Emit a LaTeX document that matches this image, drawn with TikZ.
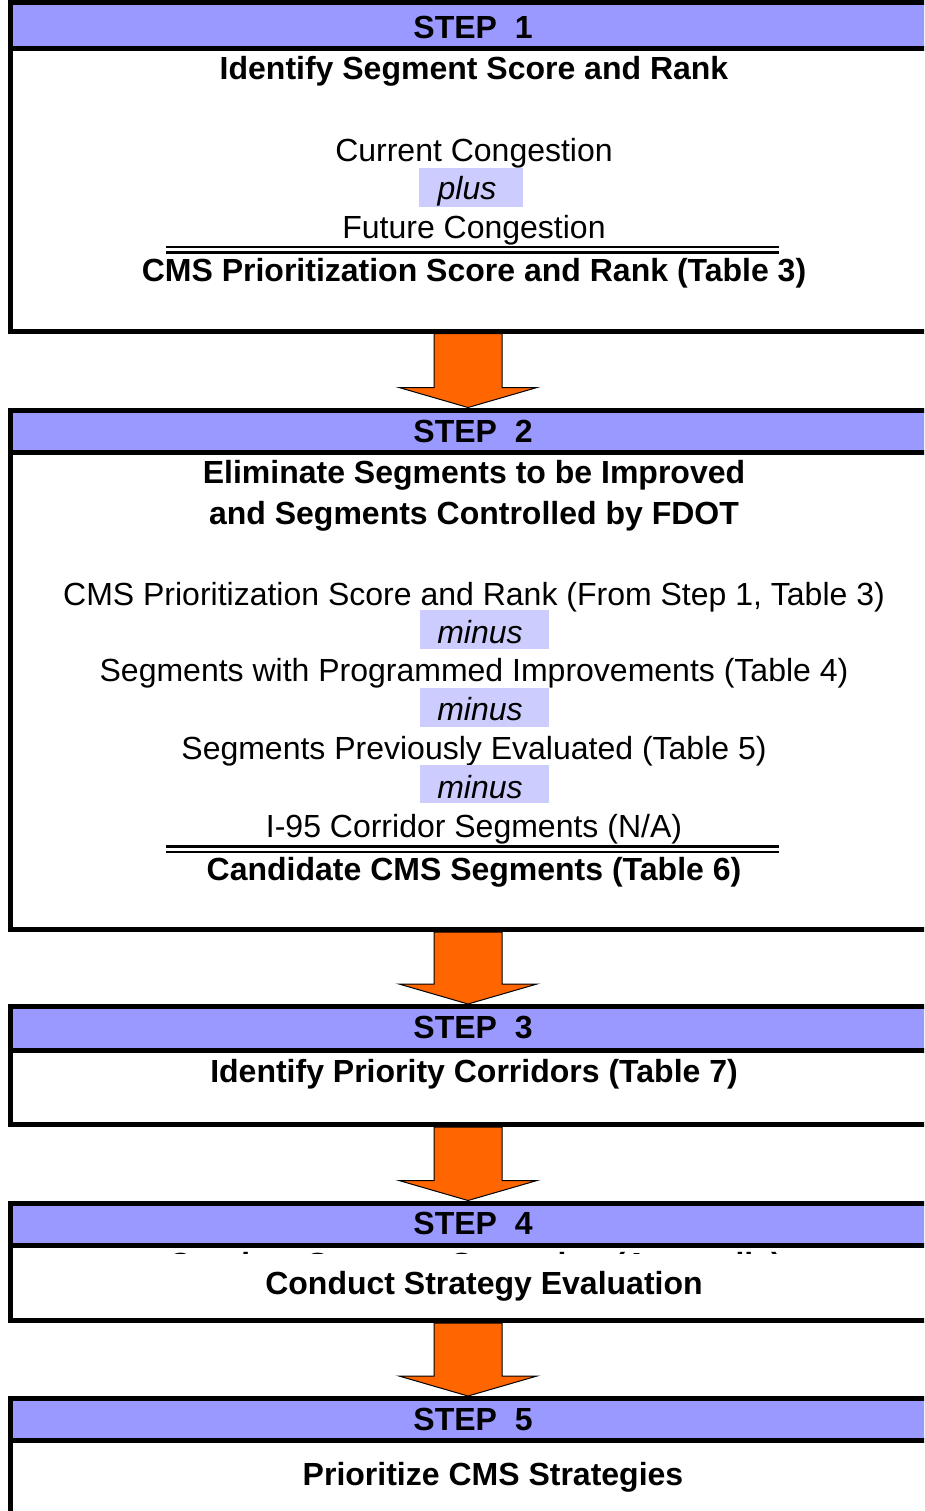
\documentclass[tikz,border=0pt]{standalone}
\usepackage{fontspec}
\setmainfont{Liberation Sans}
\usetikzlibrary{calc}
\definecolor{hdrB}{RGB}{153,153,255}
\definecolor{opB}{RGB}{204,204,255}
\definecolor{arrO}{RGB}{255,102,0}

\newcommand{\flowarrow}[2]{%
\filldraw[arrO,draw=black,line width=1pt] ($(#1.south -| ax)+(-34,0)$) -- ($(#2.north -| ax)+(-34,-20)$) -- ($(#2.north -| ax)+(-69,-20)$) -- (#2.north -| ax) -- ($(#2.north -| ax)+(69,-20)$) -- ($(#2.north -| ax)+(34,-20)$) -- ($(#1.south -| ax)+(34,0)$) -- cycle;}

\begin{document}
\begin{tikzpicture}[x=1pt,y=-1pt,
  stepbox/.style={draw,line width=5pt,inner sep=0pt,minimum width=930pt,anchor=north west},
  sepline/.style={line width=5pt},
  hdr/.style={font=\fontsize{32}{38}\selectfont\bfseries},
  ttl/.style={font=\fontsize{32}{38}\selectfont\bfseries,anchor=base},
  ln/.style={font=\fontsize{32}{38}\selectfont,anchor=base},
  op/.style={font=\fontsize{32}{38}\selectfont\itshape,anchor=base},
  dbl/.style={line width=2.5pt}]
\clip (0,0) rectangle (924,1511);
\fill[white] (0,0) rectangle (924,1511);
\coordinate (ax) at (468,0);

\fill[hdrB] (10,3) rectangle (940,49);
\node[stepbox,minimum height=328pt] (s1) at (7.5,0.5) {};
\draw[sepline] (10,49) -- (940,49);
\node[hdr] (h1) at (473,27) {STEP~~1};
\node[ttl] (t1a) at (474,80) {Identify Segment Score and Rank};
\node[ln] (t1b) at (474,162) {Current Congestion};
\fill[opB] (419,168) rectangle (523,207);
\node[op] (t1c) at (467,200) {plus};
\node[ln] (t1d) at (474,239) {Future Congestion};
\draw[dbl] (166,247) -- (779,247);
\draw[dbl] (166,252.5) -- (779,252.5);
\node[ttl] (t1e) at (474,282) {CMS Prioritization Score and Rank (Table 3)};

\fill[hdrB] (10,410) rectangle (940,452.5);
\node[stepbox,minimum height=519.5pt] (s2) at (7.5,407.5) {};
\draw[sepline] (10,452.5) -- (940,452.5);
\node[hdr] (h2) at (473,431) {STEP~~2};
\node[ttl] (t2a) at (474,483) {Eliminate Segments to be Improved};
\node[ttl] (t2b) at (474,524) {and Segments Controlled by FDOT};
\node[ln] (t2c) at (474,605) {CMS Prioritization Score and Rank (From Step 1, Table 3)};
\fill[opB] (420,610) rectangle (549,649);
\node[op] (t2d) at (480,643) {minus};
\node[ln] (t2e) at (474,681) {Segments with Programmed Improvements (Table 4)};
\fill[opB] (420,688) rectangle (549,727);
\node[op] (t2f) at (480,720) {minus};
\node[ln] (t2g) at (474,759) {Segments Previously Evaluated (Table 5)};
\fill[opB] (420,765) rectangle (549,803);
\node[op] (t2h) at (480,798) {minus};
\node[ln] (t2i) at (474,837) {I-95 Corridor Segments (N/A)};
\draw[dbl] (166,846.5) -- (779,846.5);
\draw[dbl] (166,852) -- (779,852);
\node[ttl] (t2j) at (474,880) {Candidate CMS Segments (Table 6)};

\fill[hdrB] (10,1006.5) rectangle (940,1050);
\node[stepbox,minimum height=118pt] (s3) at (7.5,1004) {};
\draw[sepline] (10,1050) -- (940,1050);
\node[hdr] (h3) at (473,1027) {STEP~~3};
\node[ttl] (t3a) at (474,1082) {Identify Priority Corridors (Table 7)};

\begin{scope}
\clip (150,1248) rectangle (800,1253);
\node[ttl,text depth=0pt] (t4x) at (475,1275) {Conduct Segment Screening (Appendix)};
\end{scope}
\fill[hdrB] (10,1203) rectangle (940,1245.5);
\node[stepbox,minimum height=117.5pt] (s4) at (7.5,1200.5) {};
\draw[sepline] (10,1245.5) -- (940,1245.5);
\node[hdr] (h4) at (473,1223) {STEP~~4};
\node[ttl] (t4a) at (484,1294) {Conduct Strategy Evaluation};

\fill[hdrB] (10,1398.5) rectangle (940,1440);
\node[stepbox,minimum height=160pt] (s5) at (7.5,1396) {};
\draw[sepline] (10,1440) -- (940,1440);
\node[hdr] (h5) at (473,1419) {STEP~~5};
\node[ttl] (t5a) at (493,1485) {Prioritize CMS Strategies};

\flowarrow{s1}{s2}
\flowarrow{s2}{s3}
\flowarrow{s3}{s4}
\flowarrow{s4}{s5}
\end{tikzpicture}
\end{document}
